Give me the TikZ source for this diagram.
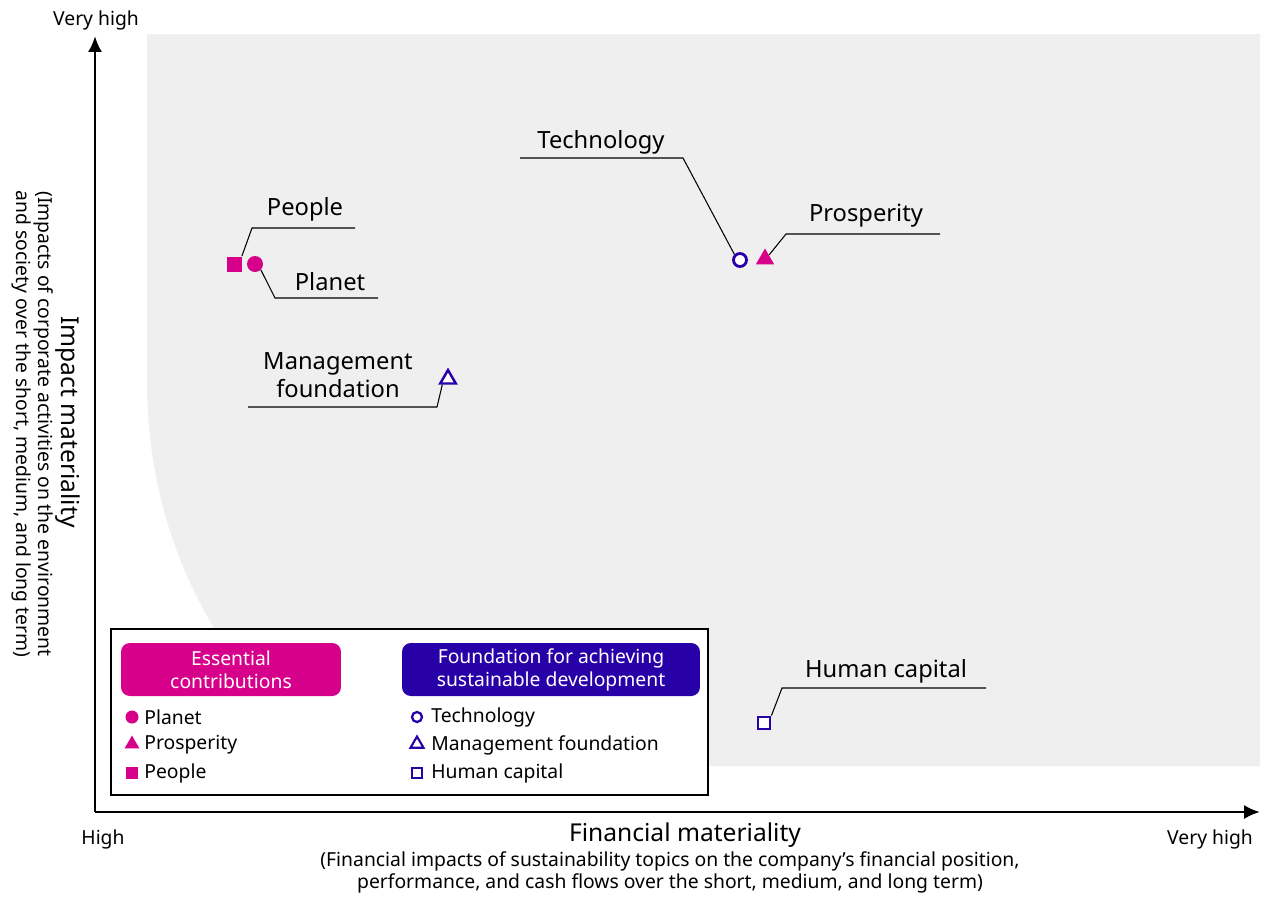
\documentclass[tikz,border=0pt]{standalone}
\usepackage{fontspec}
\setmainfont{Noto Sans}
\usetikzlibrary{arrows.meta,shapes.geometric}
\definecolor{pk}{HTML}{D6008A}
\definecolor{bl}{HTML}{2800A8}
\definecolor{bgg}{HTML}{EFEFEF}
\begin{document}
\begin{tikzpicture}[x=0.02cm,y=-0.02cm,
  lbl/.style={font=\fontsize{13.5}{16}\selectfont,align=center,inner sep=0},
  leg/.style={font=\fontsize{11}{13}\selectfont,anchor=west,inner sep=0},
  ax/.style={font=\fontsize{11}{13}\selectfont,inner sep=0,align=center},
  ld/.style={line width=0.6pt},
  fsq/.style={fill=pk,draw=none,minimum size=0.3cm,inner sep=0},
  fci/.style={circle,fill=pk,draw=none,minimum size=0.32cm,inner sep=0},
  ftr/.style={regular polygon,regular polygon sides=3,fill=pk,draw=none,minimum size=0.42cm,inner sep=0},
  osq/.style={draw=bl,line width=1.6pt,minimum size=0.24cm,inner sep=0,fill=white},
  oci/.style={circle,draw=bl,line width=1.6pt,minimum size=0.26cm,inner sep=0,fill=white},
  otr/.style={regular polygon,regular polygon sides=3,draw=bl,line width=1.4pt,minimum size=0.36cm,inner sep=0,fill=white},
  hdr/.style={rounded corners=5pt,text=white,align=center,font=\fontsize{11}{13}\selectfont,inner sep=0}
]
\useasboundingbox (0,0) rectangle (1280,914);
\fill[bgg] (147,34) -- (1260,34) -- (1260,766) -- (330,766) .. controls (200,650) and (147,520) .. (147,380) -- cycle;
% axes
\coordinate (o) at (95,812);
\coordinate (yt) at (95,36);
\coordinate (xt) at (1260,812);
\draw[line width=1.6pt,-{Latex[length=9pt,width=8pt]}] (o) -- (yt);
\draw[line width=1.6pt,-{Latex[length=9pt,width=8pt]}] (o) -- (xt);
\node[ax] at (96,20) {Very high};
\node[ax] at (103,839) {High};
\node[ax] at (1210,839) {Very high};
\node[ax,font=\fontsize{14}{16}\selectfont\bfseries] at (685,835) {Financial materiality};
\node[ax,font=\fontsize{11}{12.5}\selectfont] at (670,872) {(Financial impacts of sustainability topics on the company’s financial position,\\performance, and cash flows over the short, medium, and long term)};
\node[ax,rotate=-90,font=\fontsize{14}{16}\selectfont\bfseries] at (68,422) {Impact materiality};
\node[ax,rotate=-90,font=\fontsize{11}{12.5}\selectfont] at (33,424) {(Impacts of corporate activities on the environment\\and society over the short, medium, and long term)};
% markers
\node[fsq] (peo) at (234,264) {};
\node[fci] (pla) at (255,264) {};
\node[oci] (tec) at (740,260) {};
\node[ftr] (pro) at (765,259) {};
\node[otr] (man) at (448,379) {};
\node[osq] (hum) at (764,723) {};
% labels and leaders
\node[lbl] (lpeo) at (305,209) {People};
\coordinate (p1) at (252,228); \coordinate (p2) at (355,228);
\draw[ld] (peo.north east) -- (p1) -- (p2);
\node[lbl] (lpla) at (330,282) {Planet};
\coordinate (q1) at (275,298); \coordinate (q2) at (378,298);
\draw[ld] (pla.south east) -- (q1) -- (q2);
\node[lbl] (ltec) at (601,142) {Technology};
\coordinate (t1) at (520,158); \coordinate (t2) at (683,158);
\draw[ld] (t1) -- (t2) -- (tec.north west);
\node[lbl] (lpro) at (866,216) {Prosperity};
\coordinate (r1) at (786,234); \coordinate (r2) at (940,234);
\draw[ld] (pro.north east) -- (r1) -- (r2);
\node[lbl] (lman) at (338,375) {Management\\foundation};
\coordinate (m1) at (248,407); \coordinate (m2) at (437,407);
\draw[ld] (m1) -- (m2) -- (man.south west);
\node[lbl] (lhum) at (886,671) {Human capital};
\coordinate (h1) at (782,688); \coordinate (h2) at (986,688);
\draw[ld] (hum.north east) -- (h1) -- (h2);
% legend
\node[draw,line width=1.2pt,fill=white,minimum width=11.94cm,minimum height=3.32cm,inner sep=0] (legbox) at (409.5,712) {};
\node[hdr,fill=pk,minimum width=4.4cm,minimum height=1.06cm] (h1b) at (231,669.5) {Essential\\contributions};
\node[hdr,fill=bl,minimum width=5.96cm,minimum height=1.06cm] (h2b) at (551,669.5) {Foundation for achieving\\sustainable development};
\node[fci,minimum size=0.26cm] (a1) at (132,717) {};
\node[ftr,minimum size=0.34cm] (a2) at (132,744) {};
\node[fsq,minimum size=0.24cm] (a3) at (132,773) {};
\node[leg] at (144,717) {Planet};
\node[leg] at (144,745) {Prosperity};
\node[leg] at (144,773) {People};
\node[oci,minimum size=0.2cm,line width=1.3pt] (b1) at (417,717) {};
\node[otr,minimum size=0.3cm,line width=1.2pt] (b2) at (417,744) {};
\node[osq,minimum size=0.2cm,line width=1.3pt] (b3) at (417,773) {};
\node[leg] at (431,717) {Technology};
\node[leg] at (431,745) {Management foundation};
\node[leg] at (431,773) {Human capital};
\end{tikzpicture}
\end{document}
